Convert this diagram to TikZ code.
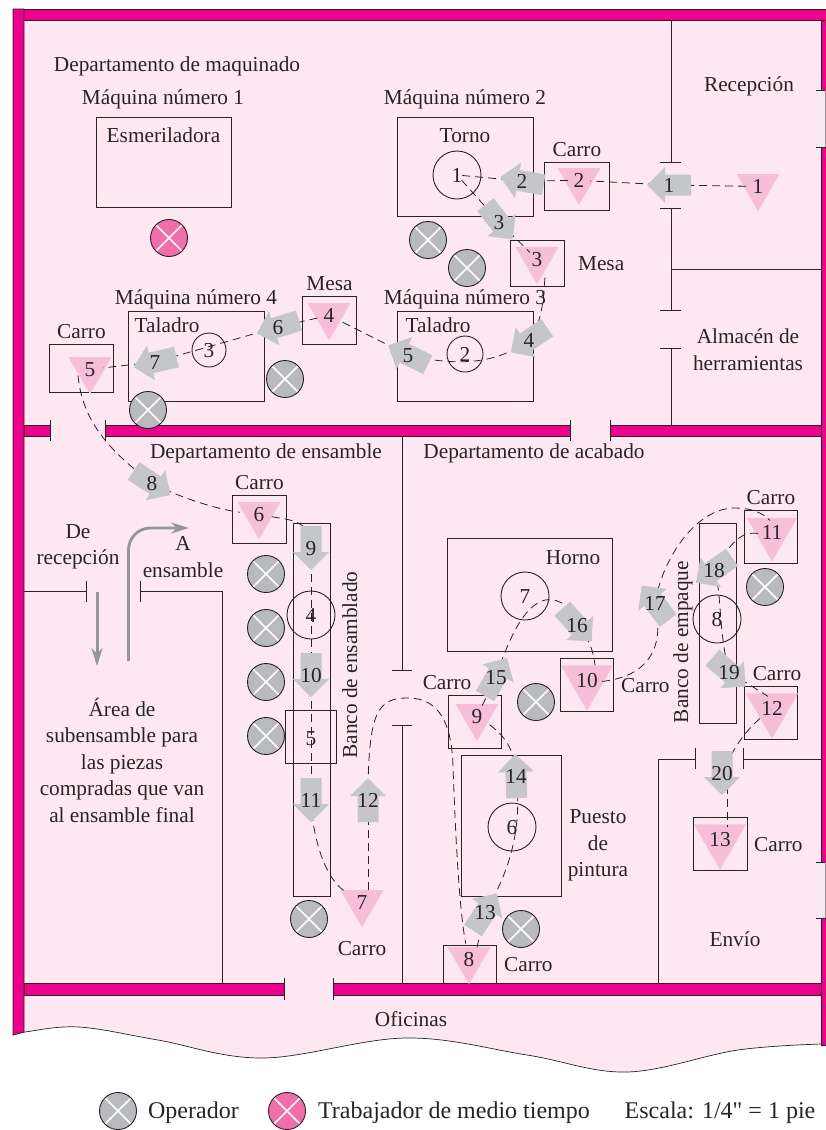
\documentclass[tikz,border=0pt]{standalone}
\usepackage{fontspec}
\setmainfont{Liberation Serif}[Ligatures=TeXOff]
\usepackage{tikz}
\usetikzlibrary{positioning,calc,shapes.geometric,arrows.meta}
\definecolor{wallpink}{RGB}{236,0,140}
\definecolor{roomfill}{RGB}{253,232,241}
\definecolor{tripink}{RGB}{247,190,215}
\definecolor{flowgray}{RGB}{196,198,200}
\definecolor{opgray}{RGB}{184,186,189}
\definecolor{oppink}{RGB}{242,110,168}
\definecolor{guidegray}{RGB}{148,150,152}
\definecolor{inkdark}{RGB}{40,36,38}
\def\flowlist{1/669/185/180,2/522/181/170,3/499/222/-52,4/529/340/214,5/408/355/154,
  6/278/327/197,7/155/362/193,8/152/483/-33,9/311/548/-90,10/311/675/-90,
  11/311/800/-90,12/368/800/90,13/485/912/57,14/516/776/92,15/496/677/60,
  16/577/625/-48,17/655/603/127,18/714/570/215,19/729/672/-41,20/722/773/-90}

\begin{document}
\begin{tikzpicture}[
  x=1pt,y=-1pt,
  every node/.style={font=\fontsize{21.3}{26.5}\selectfont,text=inkdark,inner sep=0pt,
                     text height=15pt,text depth=0pt},
  block/.style={align=center,text height=,text depth=},
  legendtext/.style={font=\fontsize{24}{27}\selectfont},
  machine/.style={draw=inkdark,line width=0.9pt,anchor=north west},
  station/.style={draw=inkdark,line width=0.9pt,circle},
  partition/.style={draw=inkdark,line width=0.9pt},
  wall/.style={draw=inkdark,line width=0.8pt,fill=wallpink},
  storage/.style={regular polygon,regular polygon sides=3,shape border rotate=180,
                  minimum size=49.6pt,outer sep=0pt,fill=tripink},
  worker/.style={circle,draw=inkdark,line width=0.9pt,fill=opgray,minimum size=37pt,
                 path picture={\draw[white,line width=1.7pt]
                   (path picture bounding box.north west) -- (path picture bounding box.south east)
                   (path picture bounding box.north east) -- (path picture bounding box.south west);}},
  parttimer/.style={worker,fill=oppink},
  flow/.style={draw=inkdark,line width=0.8pt,dash pattern=on 8pt off 5pt},
  guide/.style={draw=guidegray,line width=3pt,-{Stealth[length=18pt,width=11pt]}}
]
  \useasboundingbox (0,0) rectangle (826,1130);

  \fill[roomfill] (13,9) -- (827,9) -- (827,1044) -- plot[smooth,tension=0.6] coordinates
    {(822,1044) (738,1050) (627,1072) (527,1055) (406,1038) (263,1058) (158,1040) (79,1027) (25,1032) (13,1035)} -- cycle;
  \draw[partition,line width=0.7pt] plot[smooth,tension=0.6] coordinates
    {(822,1044) (738,1050) (627,1072) (527,1055) (406,1038) (263,1058) (158,1040) (79,1027) (25,1032) (13,1035)};

  \draw[partition] (671,20) -- (671,162.5) (660,162.5) -- (681,162.5);
  \draw[partition] (660,208) -- (681,208) (671,208) -- (671,310) (660,310) -- (681,310);
  \draw[partition] (660,348) -- (681,348) (671,348) -- (671,425);
  \draw[partition] (671,269.5) -- (821,269.5);
  \draw[partition] (402,436) -- (402,670) (392,670) -- (412,670);
  \draw[partition] (392,725) -- (412,725) (402,725) -- (402,983);
  \draw[partition] (24,591.5) -- (86,591.5) (86,581) -- (86,602);
  \draw[partition] (140,581) -- (140,602) (140,591.5) -- (222,591.5) -- (222,983);
  \draw[partition] (658,983) -- (658,759) -- (695,759) (695,748) -- (695,769);
  \draw[partition] (743,748) -- (743,769) (743,759) -- (821,759);

  \draw[wall] (13,9) rectangle (827,20);
  \draw[wall] (13,9) -- (24,9) -- (24,1032) -- (13,1035) -- cycle;
  \draw[wall] (821,20) rectangle (827,90);
  \draw[wall] (821,147) rectangle (827,862);
  \draw[wall] (821,918) rectangle (827,1045);
  \draw[wall] (24,425) rectangle (50,436);
  \draw[wall] (105,425) rectangle (570,436);
  \draw[wall] (610,425) rectangle (821,436);
  \draw[wall] (24,983) rectangle (284,995);
  \draw[wall] (333,983) rectangle (821,995);
  \draw[partition] (50,420) -- (50,441) (105,420) -- (105,441) (570,420) -- (570,441) (610,420) -- (610,441);
  \draw[partition] (284,978) -- (284,1000) (333,978) -- (333,1000);
  \draw[partition] (816,90) -- (826,90) (816,147) -- (826,147) (816,862) -- (826,862) (816,918) -- (826,918);
  \draw[guidegray,line width=0.6pt] (825.5,90) -- (825.5,147) (825.5,862) -- (825.5,918);

  \node[machine,minimum width=135pt,minimum height=90pt] (grinder) at (96,117) {};
  \node[machine,minimum width=136pt,minimum height=99pt] (lathe) at (397,117) {};
  \node[machine,minimum width=136pt,minimum height=90pt] (drill3) at (397,311) {};
  \node[machine,minimum width=136pt,minimum height=90pt] (drill4) at (128,311) {};
  \node[machine,minimum width=65pt,minimum height=48pt] (cart2) at (544,162) {};
  \node[machine,minimum width=54pt,minimum height=46pt] (table3) at (510,240) {};
  \node[machine,minimum width=54pt,minimum height=48pt] (table4) at (302,296) {};
  \node[machine,minimum width=64pt,minimum height=48pt] (cart5) at (49,344) {};
  \node[machine,minimum width=54pt,minimum height=48pt] (cart6) at (232,495) {};
  \node[machine,minimum width=37pt,minimum height=373pt] (benchA) at (293,523) {};
  \node[machine,minimum width=51pt,minimum height=53pt] (inspect5) at (285,710) {};
  \node[machine,minimum width=165pt,minimum height=113pt] (oven) at (447,538) {};
  \node[machine,minimum width=53pt,minimum height=53pt] (cart10) at (560,658) {};
  \node[machine,minimum width=53pt,minimum height=53pt] (cart9) at (448,695) {};
  \node[machine,minimum width=100pt,minimum height=141pt] (paint) at (461,755) {};
  \node[machine,minimum width=53pt,minimum height=38pt] (cart8) at (443,945) {};
  \node[machine,minimum width=37pt,minimum height=200pt] (benchB) at (699,523) {};
  \node[machine,minimum width=53pt,minimum height=53pt] (cart11) at (744,510) {};
  \node[machine,minimum width=53pt,minimum height=53pt] (cart12) at (744,686) {};
  \node[machine,minimum width=54pt,minimum height=53pt] (cart13) at (693,817) {};

  \foreach \i/\x/\y in {1/758/174,2/579/168,3/537/247,4/329/303,5/90/357,6/259/502,7/362/890,
                        8/469/947,9/477/704,10/587/668,11/772/520,12/772/696,13/720/827}
    \node[storage] (tri\i) at (\x,\y+12.4) {\i};

  \node[station,minimum size=48pt] (op1) at (457,175) {1};
  \node[station,minimum size=36pt] (op2) at (465,354) {2};
  \node[station,minimum size=34pt] (op3) at (209,350) {3};
  \node[station,minimum size=48pt] (op4) at (311,615) {4};
  \node (op5) at (311,738) {5};
  \node[station,minimum size=48pt] (op6) at (512,827) {6};
  \node[station,minimum size=48pt] (op7) at (525,596) {7};
  \node[station,minimum size=48pt] (op8) at (717,619) {8};

  \foreach \i/\x/\y/\a in \flowlist
    \coordinate (fl\i) at (\x,\y);

  \draw[flow,shorten <=12pt] (tri1.center) -- (fl1);
  \draw[flow,shorten >=11pt] (fl1) -- (tri2.center);
  \draw[flow,shorten <=11pt] (tri2.center) -- (fl2);
  \draw[flow,shorten >=4pt] (fl2) -- (op1.center);
  \draw[flow,shorten <=7pt] (op1.center) -- (fl3);
  \draw[flow,shorten >=10pt] (fl3) -- (tri3.center);
  \draw[flow,shorten <=20pt] (tri3.center) .. controls (544,275) and (546,320) .. (fl4);
  \draw[flow] (fl4) .. controls (505,358) and (470,370) .. (fl5);
  \draw[flow,shorten >=12pt] (fl5) -- (tri4.center);
  \draw[flow,shorten <=12pt] (tri4.center) -- (fl6);
  \draw[flow] (fl6) -- (fl7);
  \draw[flow,shorten >=13pt] (fl7) -- (tri5.center);
  \draw[flow] ($(tri5.center)+(-12,6)$) .. controls (82,420) and (108,450) .. (fl8);
  \draw[flow,shorten >=19pt] (fl8) .. controls (180,498) and (220,510) .. (tri6.center);
  \draw[flow,shorten <=13pt] (tri6.center) .. controls (290,520) and (311,520) .. (fl9);
  \draw[flow] (fl9) -- (fl10);
  \draw[flow] (fl10) -- (fl11);
  \draw[flow,shorten >=22pt] (fl11) .. controls (313,845) and (328,880) .. (tri7.center);
  \draw[flow] ($(tri7.center)+(6,-12)$) -- (fl12);
  \draw[flow,shorten >=16pt] (fl12) .. controls (368,710) and (378,698) .. (408,698)
    .. controls (440,698) and (452,725) .. (453,767) .. controls (456,850) and (460,915) .. (tri8.center);
  \draw[flow] ($(tri8.center)+(8,-12)$) -- (fl13);
  \draw[flow] (fl13) .. controls (508,875) and (523,830) .. (fl14);
  \draw[flow,shorten >=12pt] (fl14) .. controls (515,750) and (505,735) .. (tri9.center);
  \draw[flow,shorten <=12pt] (tri9.center) -- (fl15);
  \draw[flow] (fl15) .. controls (510,635) and (525,605) .. (545,600) .. controls (560,597) and (575,610) .. (fl16);
  \draw[flow] (fl16) .. controls (590,640) and (593,650) .. ($(tri10.center)+(8,-15)$);
  \draw[flow] ($(tri10.center)+(15,1)$) .. controls (635,678) and (668,660) .. (fl17);
  \draw[flow] (fl17) .. controls (662,560) and (695,508) .. (735,508)
    .. controls (750,508) and (762,512) .. ($(tri11.center)+(-2,-12)$);
  \draw[flow] ($(tri11.center)+(-14,1)$) .. controls (745,532) and (735,535) .. (fl18);
  \draw[flow] (fl18) .. controls (722,590) and (718,630) .. (fl19);
  \draw[flow] (fl19) -- ($(tri12.center)+(-4,-12)$);
  \draw[flow] ($(tri12.center)+(-12,10)$) .. controls (745,732) and (735,745) .. (fl20);
  \draw[flow] ($(fl20)+(5,0)$) -- ($(tri13.center)+(7,-12)$);

  \foreach \i/\x/\y/\a in \flowlist {
    \fill[flowgray,shift={(fl\i)},rotate=\a] (22,0) -- (4,18) -- (4,10.5) -- (-22,10.5)
      -- (-22,-10.5) -- (4,-10.5) -- (4,-18) -- cycle;
    \node (num\i) at (fl\i) {\i};
  }

  \foreach \i/\x/\y in {a/428/240,b/467/268,c/285/379,d/148/410,e/266/574,f/266/628,
                        g/266/682,h/266/736,j/309/919,k/521/929,l/536/702,m/765/587}
    \node[worker] (worker\i) at (\x,\y) {};
  \node[parttimer] (parttimer1) at (169,238) {};

  \coordinate (infrom) at (97,592);
  \coordinate (inend) at (97,666);
  \coordinate (outfrom) at (128.5,661);
  \coordinate (outend) at (189,528);
  \draw[guide] (infrom) -- (inend);
  \draw[guide,line width=2.8pt,rounded corners=22pt] (outfrom) |- (outend);

  \node (dept1) at (177,64) {Departamento de maquinado};
  \node (title1) at (163,97) {Máquina número 1};
  \node (title2) at (465,97) {Máquina número 2};
  \node (title3) at (465,297) {Máquina número 3};
  \node (title4) at (196,297) {Máquina número 4};
  \node (grinderlabel) at (163.5,135) {Esmeriladora};
  \node (lathelabel) at (465,135) {Torno};
  \node (drill3label) at (438,325) {Taladro};
  \node (drill4label) at (167,325) {Taladro};
  \node[above=5pt of cart2] (cart2label) {Carro};
  \node[above=5pt of table4] (table4label) {Mesa};
  \node[above=5pt of cart5] (cart5label) {Carro};
  \node[above=5pt of cart6] (cart6label) {Carro};
  \node[above=5pt of cart11] (cart11label) {Carro};
  \node[right=13pt of table3] (table3label) {Mesa};
  \node[right=7pt of cart10] (cart10label) {Carro};
  \node[right=7pt of cart8] (cart8label) {Carro};
  \node[right=6pt of cart13] (cart13label) {Carro};
  \node (cart9label) at (447,682) {Carro};
  \node (cart12label) at (777,673) {Carro};
  \node (cart7label) at (362,948) {Carro};
  \node (reception) at (749,84) {Recepción};
  \node[block] (toolroom) at (748,349.5) {Almacén de\\herramientas};
  \node (dept2) at (266,451) {Departamento de ensamble};
  \node (dept3) at (534,451) {Departamento de acabado};
  \node[block] (fromrec) at (78,547) {De\\recepción};
  \node[block] (toassy) at (183,557) {A\\ensamble};
  \node[block] (subarea) at (122,760) {Área de\\subensamble para\\las piezas\\compradas que van\\al ensamble final};
  \node[rotate=90] (benchAlabel) at (349.5,665) {Banco de ensamblado};
  \node[rotate=90] (benchBlabel) at (680.5,642) {Banco de empaque};
  \node (ovenlabel) at (573,557) {Horno};
  \node[block] (paintlabel) at (598,845.5) {Puesto\\de\\pintura};
  \node (shipping) at (735,939) {Envío};
  \node (offices) at (411,1019) {Oficinas};

  \node[worker] (legend1) at (118,1111) {};
  \node[legendtext,right=11pt of legend1] (legend1text) {Operador};
  \node[parttimer] (legend2) at (287,1111) {};
  \node[legendtext,right=12pt of legend2] (legend2text) {Trabajador de medio tiempo};
  \node[legendtext] (scalenote) at (720,1111) {Escala: 1/4" = 1 pie};
\end{tikzpicture}
\end{document}
